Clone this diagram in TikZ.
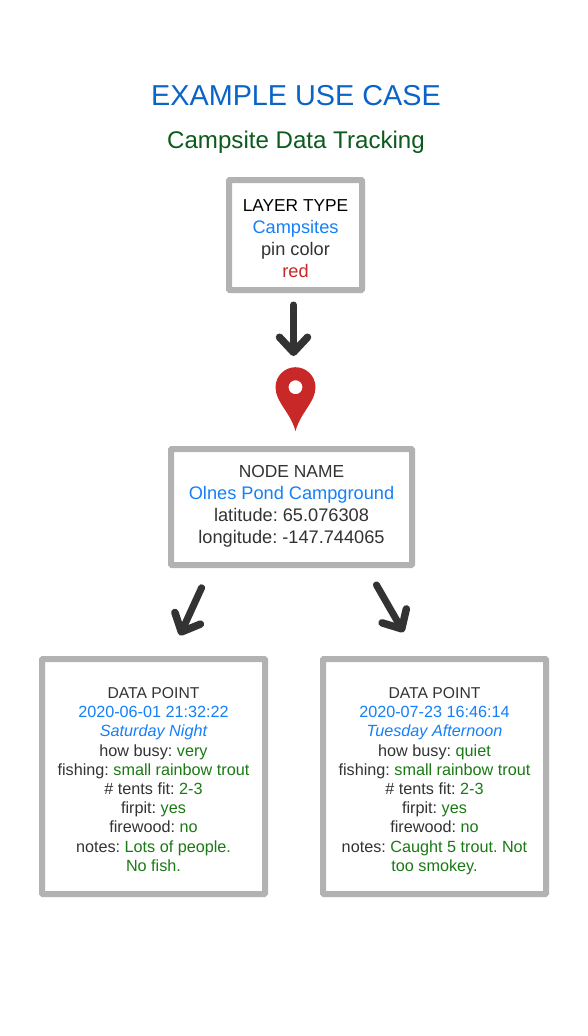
\documentclass[tikz,border=0pt]{standalone}
\usepackage{fontspec}
\setmainfont{Liberation Sans}
\usetikzlibrary{positioning,arrows.meta}
\definecolor{titleblue}{HTML}{0A64C8}
\definecolor{titlegreen}{HTML}{0B5A1E}
\definecolor{linkblue}{HTML}{1580FA}
\definecolor{pinred}{HTML}{C82828}
\definecolor{valgreen}{HTML}{1A7A14}
\definecolor{inkgray}{HTML}{333333}
\definecolor{framegray}{HTML}{B2B2B2}
\tikzset{
  framebox/.style={draw=framegray,line width=6pt,rounded corners=0.8pt,fill=white,align=center,text=inkgray,inner sep=0pt,outer sep=0pt},
  layerbox/.style={framebox,minimum width=133pt,minimum height=110pt,font=\frenchspacing\fontsize{18.2}{22}\selectfont},
  namebox/.style={framebox,minimum width=241pt,minimum height=116pt,font=\frenchspacing\fontsize{18.2}{21.8}\selectfont},
  databox/.style={framebox,minimum width=223pt,minimum height=235pt,font=\frenchspacing\fontsize{16.2}{19.2}\selectfont},
  bigarrow/.style={draw=inkgray,line width=7pt,line cap=round,-{Straight Barb[round,length=15pt,width=28pt,line width=7.5pt]}}
}
\begin{document}
\begin{tikzpicture}[x=1pt,y=-1pt]
\useasboundingbox (0,0) rectangle (588,1036);
\node[text=titleblue,font=\fontsize{28.8}{34}\selectfont] (title) at (296,96) {EXAMPLE USE CASE};
\node[text=titlegreen,font=\fontsize{24.1}{28}\selectfont] (subtitle) at (296,142) {Campsite Data Tracking};
\node[layerbox] (layer) at (295.5,235) {\rule{0pt}{20pt}{\fontsize{17.3}{22}\selectfont\textcolor{black}{LAYER TYPE}}\\\textcolor{linkblue}{Campsites}\\pin color\\\textcolor{pinred}{red}};
\node[inner sep=0pt,minimum width=40pt,minimum height=64pt] (pinmark) [below=77pt of layer] {};
\node[namebox,xshift=-4pt] (nodename) [below=159pt of layer] {{\fontsize{17.4}{22}\selectfont NODE NAME}\\\textcolor{linkblue}{Olnes Pond Campground}\\latitude: 65.076308\\\rule[-5.5pt]{0pt}{1pt}longitude: -147.744065};
\node[databox] (datal) at (153.5,776.5) {\rule{0pt}{20pt}{\fontsize{15.7}{19}\selectfont DATA POINT}\\\textcolor{linkblue}{2020-06-01 21:32:22}\\\textcolor{linkblue}{\itshape Saturday Night}\\how busy: \textcolor{valgreen}{very}\\fishing: \textcolor{valgreen}{small rainbow trout}\\\# tents fit: \textcolor{valgreen}{2-3}\\firpit: \textcolor{valgreen}{yes}\\firewood: \textcolor{valgreen}{no}\\notes: \textcolor{valgreen}{Lots of people.}\\\rule[-3.4pt]{0pt}{1pt}\textcolor{valgreen}{No fish.}};
\node[databox] (datar) [right=58pt of datal] {\rule{0pt}{20pt}{\fontsize{15.7}{19}\selectfont DATA POINT}\\\textcolor{linkblue}{2020-07-23 16:46:14}\\\textcolor{linkblue}{\itshape Tuesday Afternoon}\\how busy: \textcolor{valgreen}{quiet}\\fishing: \textcolor{valgreen}{small rainbow trout}\\\# tents fit: \textcolor{valgreen}{2-3}\\firpit: \textcolor{valgreen}{yes}\\firewood: \textcolor{valgreen}{no}\\notes: \textcolor{valgreen}{Caught 5 trout. Not}\\\textcolor{valgreen}{too smokey.}};
% pin marker
\begin{scope}[shift={(pinmark.center)}]
\fill[pinred,even odd rule] (0,32) .. controls (-5,13) and (-20,3) .. (-20,-12) .. controls (-20,-23) and (-11,-32) .. (0,-32) .. controls (11,-32) and (20,-23) .. (20,-12) .. controls (20,3) and (5,13) .. (0,32) -- cycle (0,-12) circle (7);
\end{scope}
\draw[bigarrow,shorten <=15pt,shorten >=11pt] ([xshift=-2pt]layer.south) -- ([xshift=-2pt]pinmark.north);
\draw[bigarrow,shorten <=25pt,shorten >=26pt] ([xshift=41pt]nodename.south west) -- ([xshift=127pt]datal.north west);
\draw[bigarrow,shorten <=23pt,shorten >=31pt] ([xshift=-47pt]nodename.south east) -- ([xshift=96pt]datar.north west);
\end{tikzpicture}
\end{document}
